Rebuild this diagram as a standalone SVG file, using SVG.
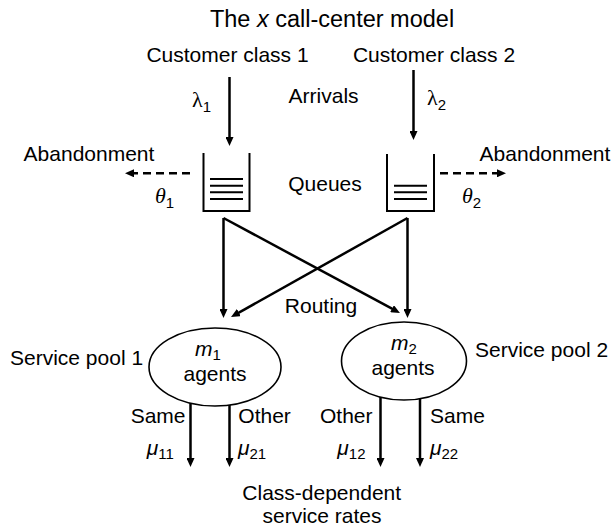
<svg xmlns="http://www.w3.org/2000/svg" width="613" height="529" viewBox="0 0 613 529">
<style>
text{font-family:"Liberation Sans",Arial,sans-serif;font-size:21px;fill:#000}
.t{font-size:23.5px}
.g{font-family:"Liberation Serif","Times New Roman",serif;font-size:22px}
.it{font-style:italic}
.sub{font-family:"Liberation Sans",Arial,sans-serif;font-size:15px;font-style:normal}
.mid{text-anchor:middle}
.ln{stroke:#000;stroke-width:2.5;fill:none}
.dash{stroke:#000;stroke-width:2.5;fill:none;stroke-dasharray:8 5}
.q{stroke:#000;stroke-width:2;fill:none}
.pool{stroke:#000;stroke-width:1.6;fill:#fff}
</style>
<defs>
<marker id="ah" markerUnits="userSpaceOnUse" markerWidth="9" markerHeight="8" refX="1" refY="4" orient="auto">
<path d="M0,0 L9,4 L0,8 z" fill="#000"/>
</marker>
</defs>
<text class="t mid" x="332" y="27">The <tspan class="it">x</tspan> call-center model</text>
<g id="class1"><text class="mid" x="227.5" y="62">Customer class 1</text></g>
<g id="class2"><text class="mid" x="434" y="62">Customer class 2</text></g>
<text class="mid" x="323.6" y="103">Arrivals</text>
<text class="mid" x="325" y="191">Queues</text>
<text class="mid" x="321" y="313">Routing</text>
<g id="queue1">
<path class="q" d="M203.5,153 V211 H249.5 V153"/>
<path class="q" d="M210,179 H243 M210,185.7 H243 M210,192.3 H243 M210,199 H243"/>
</g>
<g id="queue2">
<path class="q" d="M387,154 V211 H434 V154"/>
<path class="q" d="M394,185.7 H427 M394,192.3 H427 M394,199 H427"/>
</g>
<g id="abandon1"><text class="mid" x="89" y="161">Abandonment</text></g>
<g id="abandon2"><text class="mid" x="545" y="161">Abandonment</text></g>
<g id="pool1">
<ellipse class="pool" cx="215" cy="367" rx="66" ry="39"/>
<text x="195" y="356"><tspan class="it">m</tspan><tspan class="sub" dy="4">1</tspan></text>
<text class="mid" x="215" y="381">agents</text>
</g>
<g id="pool2">
<ellipse class="pool" cx="404" cy="361" rx="62.5" ry="39"/>
<text x="391" y="350"><tspan class="it">m</tspan><tspan class="sub" dy="4">2</tspan></text>
<text class="mid" x="403" y="375">agents</text>
</g>
<text x="10" y="365">Service pool 1</text>
<text x="475" y="357">Service pool 2</text>
<g id="connectors">
<line class="ln" x1="229.5" y1="77" x2="229.5" y2="138" marker-end="url(#ah)"/>
<line class="ln" x1="413.5" y1="70" x2="413.5" y2="132" marker-end="url(#ah)"/>
<line class="dash" x1="190" y1="173.3" x2="133" y2="173.3" marker-end="url(#ah)"/>
<line class="dash" x1="440" y1="173.3" x2="498" y2="173.3" marker-end="url(#ah)"/>
<line class="ln" x1="223.5" y1="218" x2="223.5" y2="310" marker-end="url(#ah)"/>
<line class="ln" x1="407.5" y1="218" x2="407.5" y2="310" marker-end="url(#ah)"/>
<line class="ln" x1="223.5" y1="218" x2="392.9" y2="309.2" marker-end="url(#ah)"/>
<line class="ln" x1="407.5" y1="218" x2="238" y2="313.1" marker-end="url(#ah)"/>
<line class="ln" x1="190.5" y1="403.5" x2="190.5" y2="459" marker-end="url(#ah)"/>
<line class="ln" x1="229.5" y1="405" x2="229.5" y2="459" marker-end="url(#ah)"/>
<line class="ln" x1="380.5" y1="397" x2="380.5" y2="459" marker-end="url(#ah)"/>
<line class="ln" x1="420" y1="398.5" x2="420" y2="459" marker-end="url(#ah)"/>
</g>
<text class="g" x="192" y="107">λ<tspan class="sub" dy="5">1</tspan></text>
<text class="g" x="427" y="105">λ<tspan class="sub" dy="5">2</tspan></text>
<text class="g it" x="155" y="203">θ<tspan class="sub" dy="5">1</tspan></text>
<text class="g it" x="462" y="203">θ<tspan class="sub" dy="5">2</tspan></text>
<text x="130.7" y="422.7">Same</text>
<text x="238.3" y="422.7">Other</text>
<text x="320" y="422.7">Other</text>
<text x="430" y="422.7">Same</text>
<text x="146.7" y="455"><tspan class="it">μ</tspan><tspan class="sub" dy="4">11</tspan></text>
<text x="238" y="455"><tspan class="it">μ</tspan><tspan class="sub" dy="4">21</tspan></text>
<text x="337.3" y="455"><tspan class="it">μ</tspan><tspan class="sub" dy="4">12</tspan></text>
<text x="430" y="455"><tspan class="it">μ</tspan><tspan class="sub" dy="4">22</tspan></text>
<text class="mid" x="321.7" y="500">Class-dependent</text>
<text class="mid" x="322" y="522.7">service rates</text>
</svg>
